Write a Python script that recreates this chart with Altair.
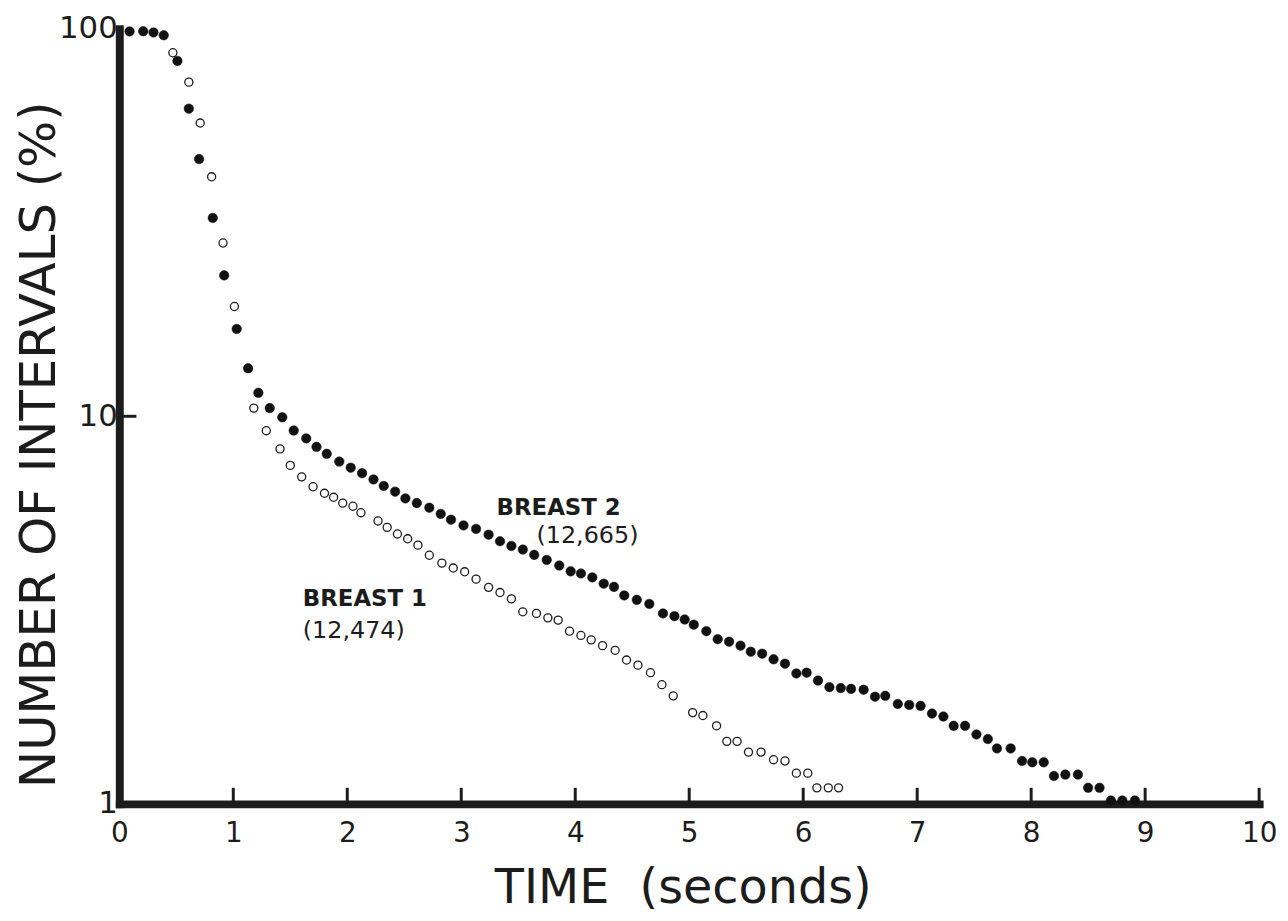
import altair as alt
import pandas as pd

# ---- data ----
# Breast 2 (filled dots)
b2_t = [0.09, 0.21, 0.30, 0.39, 0.51, 0.61, 0.70, 0.82, 0.92,
        1.03, 1.13, 1.22, 1.32, 1.43, 1.53, 1.64, 1.73, 1.82, 1.93,
        2.03, 2.13, 2.23, 2.32, 2.42, 2.51, 2.61, 2.72, 2.82, 2.91,
        3.02, 3.13, 3.24, 3.34, 3.44, 3.54, 3.64, 3.75, 3.86, 3.96,
        4.05, 4.15, 4.25, 4.34, 4.43, 4.54, 4.65, 4.77, 4.87, 4.96,
        5.04, 5.15, 5.25, 5.35, 5.45, 5.54, 5.64, 5.74, 5.84, 5.94,
        6.03, 6.13, 6.23, 6.33, 6.42, 6.53, 6.63, 6.72, 6.83, 6.93,
        7.03, 7.13, 7.23, 7.32, 7.42, 7.52, 7.62, 7.70, 7.82, 7.92,
        8.01, 8.11, 8.20, 8.30, 8.41, 8.50, 8.60, 8.70, 8.80, 8.91]
b2_v = [98.4, 98.5, 97.8, 96.2, 82.6, 62.2, 46.1, 32.5, 23.1,
        16.8, 13.3, 11.5, 10.5, 9.94, 9.19, 8.77, 8.34, 8.00, 7.64,
        7.37, 7.13, 6.87, 6.61, 6.39, 6.14, 5.97, 5.81, 5.60, 5.41,
        5.23, 5.12, 4.95, 4.76, 4.63, 4.53, 4.39, 4.26, 4.12, 3.98,
        3.93, 3.84, 3.70, 3.63, 3.45, 3.36, 3.28, 3.10, 3.05, 2.99,
        2.90, 2.79, 2.66, 2.62, 2.56, 2.47, 2.44, 2.36, 2.30, 2.17,
        2.18, 2.08, 2.00, 1.99, 1.98, 1.97, 1.89, 1.90, 1.81, 1.80,
        1.79, 1.71, 1.68, 1.59, 1.59, 1.51, 1.47, 1.39, 1.39, 1.29,
        1.28, 1.28, 1.18, 1.19, 1.19, 1.10, 1.10, 1.02, 1.02, 1.02]

# Breast 1 (open circles)
b1_t = [0.47, 0.61, 0.71, 0.81, 0.91, 1.01,
        1.18, 1.29, 1.41, 1.50, 1.60, 1.70, 1.80, 1.88, 1.96,
        2.05, 2.12, 2.27, 2.35, 2.44, 2.53, 2.62, 2.72, 2.83, 2.93,
        3.03, 3.13, 3.24, 3.34, 3.44, 3.54, 3.66, 3.76, 3.85, 3.95,
        4.05, 4.14, 4.24, 4.35, 4.45, 4.55, 4.66, 4.76, 4.86,
        5.03, 5.12, 5.24, 5.33, 5.42, 5.52, 5.63, 5.74, 5.84, 5.94,
        6.04, 6.12, 6.22, 6.31]
b1_v = [86.7, 72.8, 57.1, 41.5, 28.0, 19.2,
        10.5, 9.18, 8.24, 7.47, 6.98, 6.58, 6.33, 6.18, 5.97,
        5.86, 5.64, 5.37, 5.17, 4.97, 4.83, 4.65, 4.38, 4.18, 4.06,
        3.97, 3.80, 3.62, 3.51, 3.38, 3.13, 3.10, 3.02, 2.98, 2.79,
        2.72, 2.65, 2.56, 2.49, 2.35, 2.28, 2.18, 2.03, 1.90,
        1.72, 1.69, 1.59, 1.45, 1.45, 1.36, 1.36, 1.30, 1.29, 1.20,
        1.20, 1.10, 1.10, 1.10]

x_ticks = [0, 1, 2, 3, 4, 5, 6, 7, 8, 9, 10]
y_ticks = [1, 10, 100]

name_text = ["BREAST 2", "BREAST 1"]
name_t = [3.31, 1.61]
name_v = [5.8, 3.38]
count_text = ["(12,665)", "(12,474)"]
count_t = [3.66, 1.61]
count_v = [4.92, 2.8]

# ---- tables ----
b2 = pd.DataFrame({"t": b2_t, "pct": b2_v})
b1 = pd.DataFrame({"t": b1_t, "pct": b1_v})
xt = pd.DataFrame({"t": x_ticks[1:], "pct": [1.0] * 10, "pct2": [1.1] * 10})
yt = pd.DataFrame({"t": [0.0], "t2": [0.15], "pct": [10.0]})
names = pd.DataFrame({"txt": name_text, "t": name_t, "pct": name_v})
counts = pd.DataFrame({"txt": count_text, "t": count_t, "pct": count_v})

INK = "#1c1c1c"
FONT = "DejaVu Sans"

x_scale = alt.Scale(domain=[0, 10], nice=False, zero=False)
y_scale = alt.Scale(type="log", domain=[1, 100], nice=False)

x_axis = alt.Axis(values=x_ticks, title="TIME\u00a0\u00a0(seconds)", grid=False,
                  ticks=False, domainColor=INK, domainWidth=8, domainCap="square",
                  labelFont=FONT, labelFontSize=28, labelColor=INK, labelPadding=16,
                  labelFlush=False, format="d", zindex=0,
                  titleFont=FONT, titleFontSize=48, titleFontWeight="normal",
                  titleColor=INK, titleX=567, titleY=85, titleBaseline="middle",
                  titleAnchor="middle", titleAlign="center")
y_axis = alt.Axis(values=y_ticks, title="NUMBER OF INTERVALS (%)", grid=False,
                  ticks=False, domainColor=INK, domainWidth=8, domainCap="square",
                  labelFont=FONT, labelFontSize=31, labelColor=INK, labelPadding=2,
                  labelFlush=False, format="d", zindex=0,
                  titleFont=FONT, titleFontSize=50, titleFontWeight="normal",
                  titleColor=INK, titleAngle=270, titleX=-80, titleY=418,
                  titleBaseline="middle", titleAlign="center", titleAnchor="middle")

X = alt.X("t:Q", scale=x_scale, axis=x_axis)
Y = alt.Y("pct:Q", scale=y_scale, axis=y_axis)

xtick_layer = alt.Chart(xt).mark_rule(color=INK, strokeWidth=3).encode(
    x=X, y=Y, y2="pct2:Q")
ytick_layer = alt.Chart(yt).mark_rule(color=INK, strokeWidth=3).encode(
    x=X, x2="t2:Q", y=Y)

open_layer = alt.Chart(b1).mark_point(shape="circle", filled=False, size=66,
                                      strokeWidth=1.3, color=INK, opacity=1).encode(
    x=X, y=Y)
filled_layer = alt.Chart(b2).mark_circle(size=92, color="#111111", opacity=1,
                                         stroke="#111111", strokeWidth=0.5).encode(
    x=X, y=Y)

name_layer = alt.Chart(names).mark_text(align="left", baseline="middle", font=FONT,
                                        fontSize=23, fontWeight="bold", color=INK).encode(
    x=X, y=Y, text="txt:N")
count_layer = alt.Chart(counts).mark_text(align="left", baseline="middle", font=FONT,
                                          fontSize=24, color=INK).encode(
    x=X, y=Y, text="txt:N")

chart = alt.layer(xtick_layer, ytick_layer, open_layer, filled_layer,
                  name_layer, count_layer).properties(
    width=1147, height=780,
    autosize=alt.AutoSizeParams(type="none"),
    padding={"left": 112, "top": 18, "right": 21, "bottom": 114},
    background="white",
).configure_view(stroke=None)

chart.save("out.html", embed_options={"renderer": "svg", "actions": False})
